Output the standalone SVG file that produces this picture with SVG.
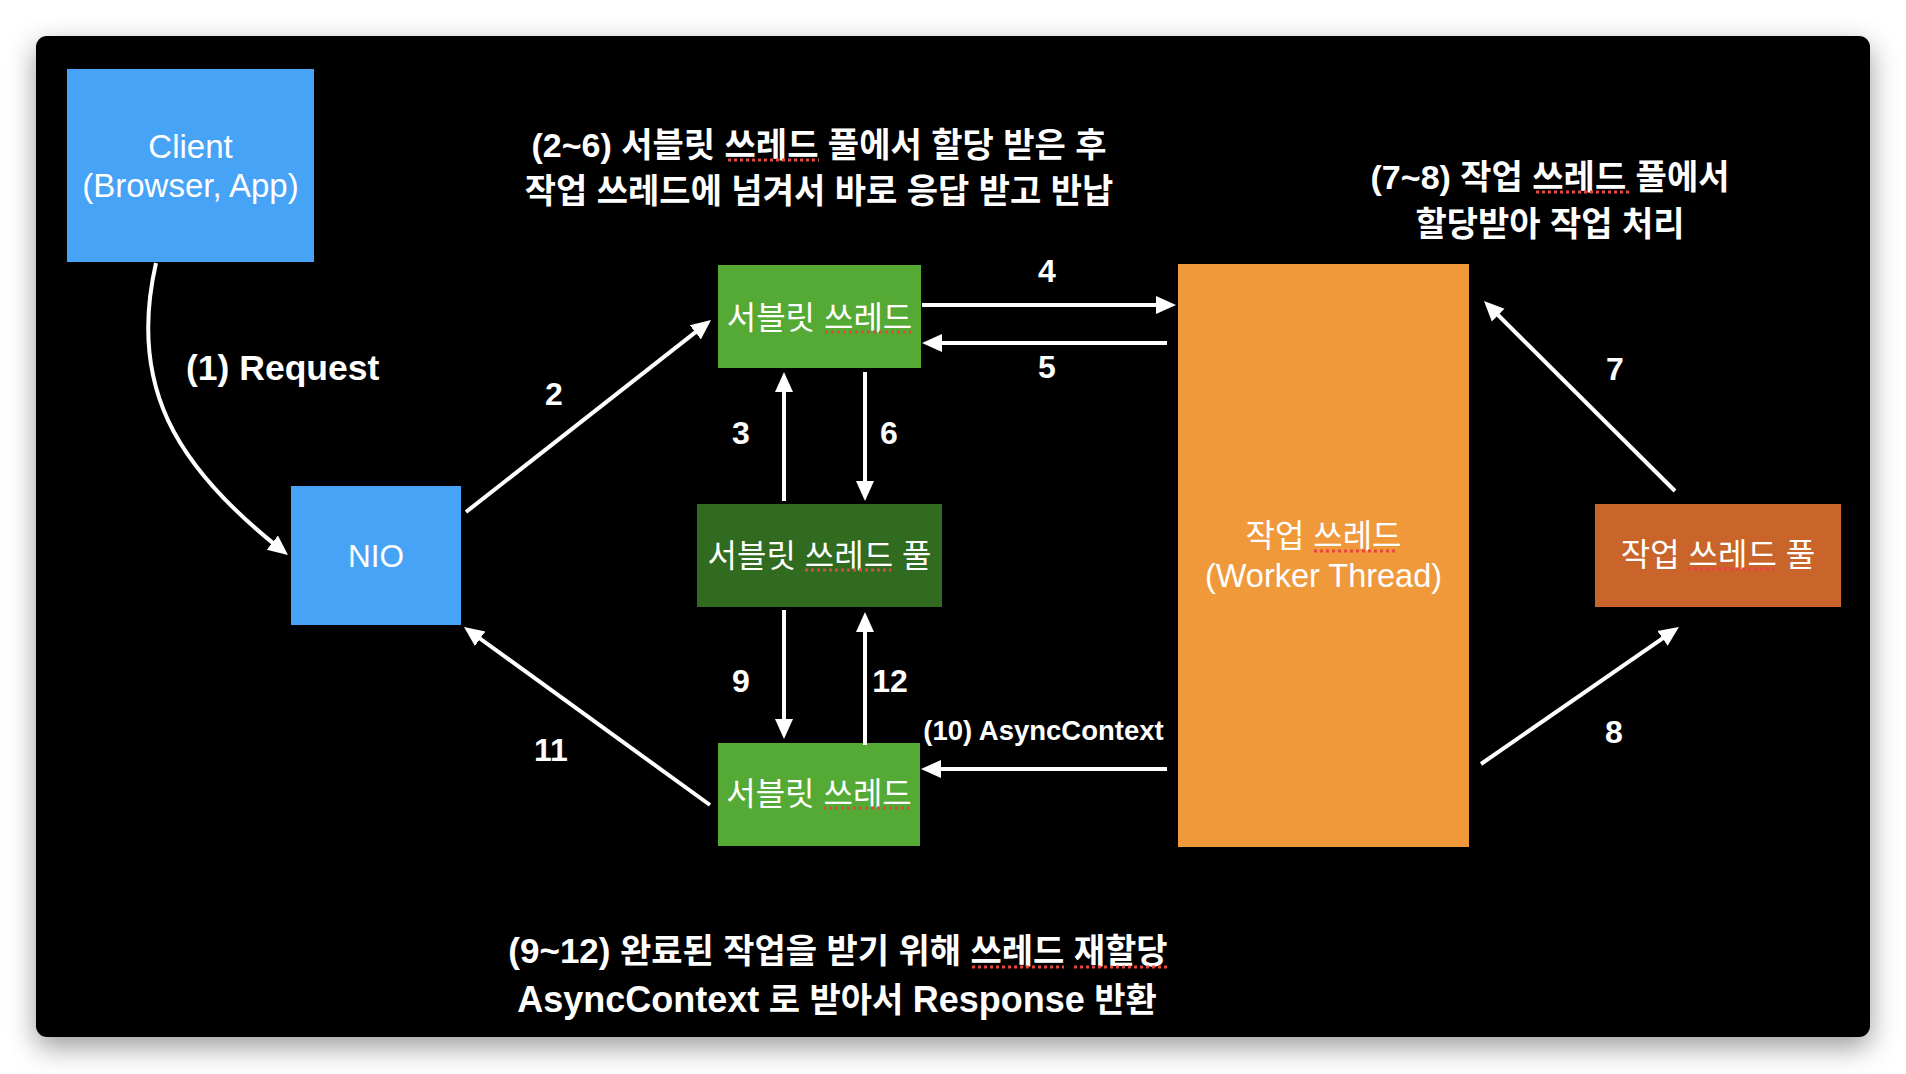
<svg xmlns="http://www.w3.org/2000/svg" width="1906" height="1074" viewBox="0 0 1906 1074">
<defs>
<filter id="sh" x="-10%" y="-10%" width="120%" height="125%">
<feDropShadow dx="0" dy="10" stdDeviation="14" flood-color="#000" flood-opacity="0.4"/>
</filter>
<marker id="ah" markerUnits="userSpaceOnUse" markerWidth="20" markerHeight="20" viewBox="0 0 20 20" refX="8" refY="10" orient="auto">
<path d="M0,1 L20,10 L0,19 Z" fill="#fff"/>
</marker>
<style>
text{font-family:'Liberation Sans','Noto Sans CJK KR',sans-serif;fill:#fff}
.b{font-weight:bold}
.n{font-size:33px}
.k{font-size:32px}
.num{font-size:32px;font-weight:bold;text-anchor:middle}
.c{text-anchor:middle}
.cn line,.cn path{stroke:#fff;stroke-width:4;fill:none;marker-end:url(#ah)}
.sq{stroke:#E5483B;stroke-width:3;stroke-dasharray:3 3}
</style>
</defs>
<rect x="0" y="0" width="1906" height="1074" fill="#fff"/>
<rect id="panel" x="36" y="36" width="1834" height="1001" rx="11" fill="#000" filter="url(#sh)"/>

<g id="title-2-6" class="b">
<text x="819" y="157" class="c" font-size="34">(2~6) 서블릿 쓰레드 풀에서 할당 받은 후</text>
<text x="819" y="203" class="c" font-size="34">작업 쓰레드에 넘겨서 바로 응답 받고 반납</text>
<line class="sq" x1="728" y1="160" x2="819" y2="160"/>
</g>
<g id="title-7-8" class="b">
<text x="1550" y="189" class="c" font-size="34">(7~8) 작업 쓰레드 풀에서</text>
<text x="1550" y="236" class="c" font-size="34">할당받아 작업 처리</text>
<line class="sq" x1="1536" y1="192" x2="1629" y2="192"/>
</g>
<g id="title-9-12" class="b">
<text x="838" y="963" class="c" font-size="34"><tspan font-size="35">(9~12)</tspan> 완료된 작업을 받기 위해 쓰레드 재할당</text>
<text x="837" y="1012" class="c" font-size="34"><tspan font-size="36">AsyncContext</tspan> 로 받아서 <tspan font-size="36">Response</tspan> 반환</text>
<line class="sq" x1="972" y1="967" x2="1064" y2="967"/>
<line class="sq" x1="1074" y1="967" x2="1168" y2="967"/>
</g>

<g id="client">
<rect x="67" y="69" width="247" height="193" fill="#47A3F6"/>
<text x="190.5" y="158" class="c n">Client</text>
<text x="190.5" y="197" class="c n">(Browser, App)</text>
</g>
<g id="nio">
<rect x="291" y="486" width="170" height="139" fill="#47A3F6"/>
<text x="376" y="567" class="c" font-size="31.5">NIO</text>
</g>
<g id="servlet-thread-top">
<rect x="718" y="265" width="203" height="103" fill="#54AA35"/>
<text x="819.5" y="329" class="c k">서블릿 쓰레드</text>
<line class="sq" x1="825" y1="332" x2="911" y2="332"/>
</g>
<g id="servlet-thread-pool">
<rect x="697" y="504" width="245" height="103" fill="#306B1F"/>
<text x="819.5" y="567" class="c k">서블릿 쓰레드 풀</text>
<line class="sq" x1="805" y1="570" x2="891" y2="570"/>
</g>
<g id="servlet-thread-bottom">
<rect x="718" y="743" width="202" height="103" fill="#54AA35"/>
<text x="819" y="805" class="c k">서블릿 쓰레드</text>
<line class="sq" x1="823" y1="808" x2="909" y2="808"/>
</g>
<g id="worker-thread">
<rect x="1178" y="264" width="291" height="583" fill="#F0993B"/>
<text x="1323.5" y="547" class="c k">작업 쓰레드</text>
<text x="1323.5" y="587" class="c" font-size="32.5">(Worker Thread)</text>
<line class="sq" x1="1314" y1="551" x2="1398" y2="551"/>
</g>
<g id="worker-thread-pool">
<rect x="1595" y="504" width="246" height="103" fill="#C9652A"/>
<text x="1718" y="566" class="c k">작업 쓰레드 풀</text>
<line class="sq" x1="1688" y1="569" x2="1774" y2="569"/>
</g>

<g id="connectors" class="cn">
<path d="M156,263 C128,385 175,465 278.6,547.6"/>
<line x1="466" y1="512" x2="701.6" y2="327.4"/>
<line x1="784" y1="501" x2="784" y2="384"/>
<line x1="865" y1="372" x2="865" y2="489"/>
<line x1="922" y1="305" x2="1164" y2="305"/>
<line x1="1167" y1="343" x2="934" y2="343"/>
<line x1="784" y1="610" x2="784" y2="727"/>
<line x1="865" y1="745" x2="865" y2="624"/>
<line x1="1167" y1="769" x2="933" y2="769"/>
<line x1="710" y1="805" x2="473.7" y2="634"/>
<line x1="1675" y1="491" x2="1492.5" y2="309.5"/>
<line x1="1481" y1="764" x2="1669.1" y2="633.8"/>
</g>

<g id="labels">
<text x="186" y="380" class="b" font-size="35.5">(1) Request</text>
<text x="554" y="405" class="num">2</text>
<text x="741" y="444" class="num">3</text>
<text x="889" y="444" class="num">6</text>
<text x="1047" y="282" class="num">4</text>
<text x="1047" y="378" class="num">5</text>
<text x="741" y="692" class="num">9</text>
<text x="890" y="692" class="num">12</text>
<text x="551" y="761" class="num">11</text>
<text x="1615" y="380" class="num">7</text>
<text x="1614" y="743" class="num">8</text>
<text x="1043.5" y="740" class="c b" font-size="27.5">(10) AsyncContext</text>
</g>
</svg>
